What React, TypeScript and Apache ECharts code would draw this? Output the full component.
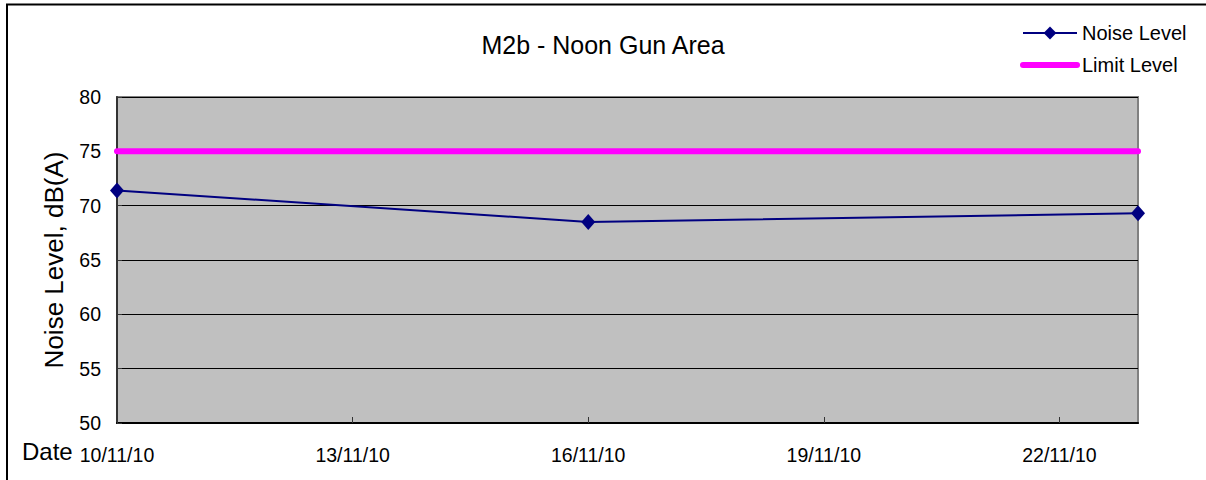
import React, { useEffect, useRef } from "react";
import * as echarts from "echarts";

const noiseDates = ["2010-11-10", "2010-11-16", "2010-11-23"];
const noiseValues = [71.4, 68.5, 69.3];
const limitDates = ["2010-11-10", "2010-11-23"];
const limitValues = [75, 75];
const xMinDate = "2010-11-10";
const xMaxDate = "2010-11-23";
const yMin = 50;
const yMax = 80;
const yStep = 5;
const xStepDays = 3;

const DAY = 86400000;
const ts = (s: string) => {
  const [y, m, d] = s.split("-").map(Number);
  return Date.UTC(y, m - 1, d);
};
const pad = (n: number) => (n < 10 ? "0" + n : "" + n);
const fmt = (v: number) => {
  const d = new Date(v);
  return `${d.getUTCDate()}/${d.getUTCMonth() + 1}/${pad(d.getUTCFullYear() % 100)}`;
};

export default function App() {
  const ref = useRef<HTMLDivElement>(null);
  useEffect(() => {
    if (!ref.current) return;
    const chart = echarts.init(ref.current, undefined, { renderer: "svg" });
    const font = "Liberation Sans, Arial, sans-serif";
    chart.setOption({
      animation: false,
      backgroundColor: "#ffffff",
      textStyle: { fontFamily: font, color: "#000" },
      title: {
        text: "M2b - Noon Gun Area",
        left: "center",
        top: 27,
        textStyle: { fontFamily: font, fontSize: 25, fontWeight: "normal", color: "#000" },
      },
      legend: {
        orient: "vertical",
        left: 1020,
        top: 23,
        padding: 0,
        itemWidth: 54,
        itemHeight: 16,
        itemGap: 12,
        textStyle: { fontFamily: font, fontSize: 20, color: "#000" },
        data: [
          { name: "Noise Level" },
          {
            name: "Limit Level",
            itemStyle: { opacity: 0 },
            lineStyle: { width: 6, cap: "round", color: "#FF00FF" },
          },
        ],
      },
      grid: {
        left: 117,
        right: 68,
        top: 97,
        bottom: 57,
        show: true,
        backgroundColor: "#C0C0C0",
        borderColor: "#808080",
        borderWidth: 2,
      },
      xAxis: {
        type: "value",
        min: ts(xMinDate),
        max: ts(xMaxDate),
        interval: xStepDays * DAY,
        axisLine: { show: true, lineStyle: { color: "#000", width: 2 } },
        axisTick: { show: true, inside: true, length: 6, lineStyle: { color: "#333" } },
        splitLine: { show: false },
        axisLabel: {
          margin: 22,
          fontFamily: font,
          fontSize: 19.5,
          color: "#000",
          formatter: (v: number) => fmt(v),
          showMaxLabel: false,
        },
      },
      yAxis: {
        type: "value",
        min: yMin,
        max: yMax,
        interval: yStep,
        name: "Noise Level, dB(A)",
        nameLocation: "middle",
        nameGap: 50,
        nameTextStyle: { fontFamily: font, fontSize: 26, color: "#000" },
        axisLine: { show: true, lineStyle: { color: "#333", width: 2 } },
        axisTick: { show: true, inside: true, length: 5, lineStyle: { color: "#333" } },
        splitLine: { show: true, lineStyle: { color: "#000", width: 1 } },
        axisLabel: { margin: 16, fontFamily: font, fontSize: 19.5, color: "#000" },
      },
      graphic: [
        {
          type: "rect",
          shape: { x: 7, y: 4.5, width: 1400, height: 600 },
          style: { fill: "none", stroke: "#000", lineWidth: 2 },
          z: 100,
        },
        {
          type: "text",
          x: 22,
          y: 451,
          style: {
            text: "Date",
            fontFamily: font,
            fontSize: 24,
            fill: "#000",
            verticalAlign: "middle",
            align: "left",
          },
        },
      ],
      series: [
        {
          name: "Limit Level",
          type: "line",
          data: limitDates.map((d, i) => [ts(d), limitValues[i]]),
          symbol: "none",
          color: "#FF00FF",
          lineStyle: { color: "#FF00FF", width: 6, cap: "round" },
          z: 2,
        },
        {
          name: "Noise Level",
          type: "line",
          data: noiseDates.map((d, i) => [ts(d), noiseValues[i]]),
          symbol: "diamond",
          symbolSize: [14, 16],
          color: "#000080",
          itemStyle: { color: "#000080" },
          lineStyle: { color: "#000080", width: 2 },
          z: 3,
        },
      ],
    });
    return () => chart.dispose();
  }, []);
  return (
    <div
      ref={ref}
      style={{ position: "fixed", left: 0, top: 0, width: 1206, height: 480 }}
    />
  );
}
